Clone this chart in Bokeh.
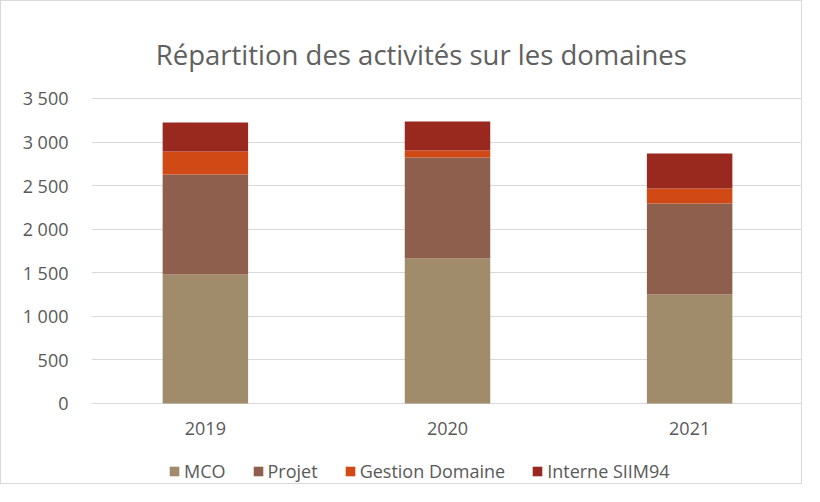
from bokeh.plotting import figure
from bokeh.models import Legend, LegendItem, FixedTicker, Label, Range1d, FactorRange, ColumnDataSource
from bokeh.core.properties import value
from bokeh.embed import file_html
from bokeh.resources import INLINE

years = ["2019", "2020", "2021"]
series = ["MCO", "Projet", "Gestion Domaine", "Interne SIIM94"]
mco = [1480, 1665, 1250]
projet = [1148, 1158, 1045]
gestion = [265, 80, 172]
interne = [333, 333, 402]
colors = ["#A08B6A", "#8F5F4E", "#D14A16", "#99291E"]
y_ticks = [0, 500, 1000, 1500, 2000, 2500, 3000, 3500]
y_tick_labels = ["0", "500", "1 000", "1 500", "2 000", "2 500", "3 000", "3 500"]
chart_title = "Répartition des activités sur les domaines"

FONT = "Open Sans"
GREY = "#595959"

# frame covers the whole canvas so that title, category labels and legend are never clipped
p = figure(x_range=FactorRange(factors=years, range_padding=-0.0198),
           y_range=Range1d(-941.0, 4613.1), width=802, height=484,
           output_backend="svg", toolbar_location=None, x_axis_location=None,
           min_border_left=90, min_border_right=0, min_border_top=0, min_border_bottom=0)
p.styles = {"border": "1px solid #d9d9d9"}

data = {"years": years, "MCO": mco, "Projet": projet,
        "Gestion Domaine": gestion, "Interne SIIM94": interne}
renderers = p.vbar_stack(series, x="years", width=0.353, color=colors, source=data,
                         line_color=None)

p.outline_line_color = None
p.xgrid.grid_line_color = None
p.ygrid.grid_line_color = "#d9d9d9"
p.ygrid.grid_line_width = 1

p.yaxis.ticker = FixedTicker(ticks=y_ticks)
p.yaxis.major_label_overrides = {t: l for t, l in zip(y_ticks, y_tick_labels)}
p.yaxis.axis_line_color = None
p.yaxis.major_tick_line_color = None
p.yaxis.minor_tick_line_color = None
p.yaxis.major_label_standoff = 17
p.yaxis.major_label_text_font = FONT
p.yaxis.major_label_text_font_size = "18px"
p.yaxis.major_label_text_color = GREY

# category labels under the 0 line
cat_src = ColumnDataSource(dict(x=years, y=[y_ticks[0]] * len(years), t=years))
p.text(x="x", y="y", text="t", source=cat_src, y_offset=25,
       text_align="center", text_baseline="alphabetic",
       text_font=value(FONT), text_font_size="18px", text_color=GREY)

title = Label(x=1.392, y=4010, text=chart_title,
              text_font=FONT, text_font_size="27.5px", text_color="#606060",
              text_align="center", text_baseline="alphabetic")
p.add_layout(title)

items = [LegendItem(label=s, renderers=[r]) for s, r in zip(series, renderers)]
legend = Legend(items=items, orientation="horizontal", location=(77, 2),
                label_text_font=FONT, label_text_font_size="18px", label_text_color=GREY,
                glyph_width=12, glyph_height=12, label_standoff=4, spacing=26,
                label_height=20, border_line_color=None, background_fill_alpha=0,
                margin=0, padding=0)
p.add_layout(legend, "center")

open("out.html", "w").write(file_html(p, INLINE))
